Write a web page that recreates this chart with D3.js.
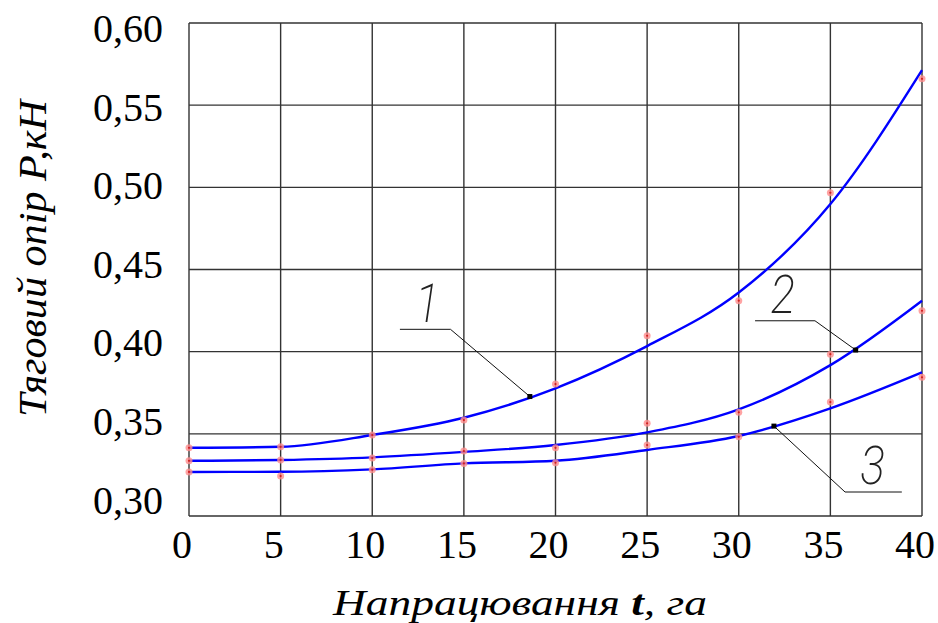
<!DOCTYPE html>
<html>
<head>
<meta charset="utf-8">
<script src="https://cdn.jsdelivr.net/npm/d3@7"></script>
<style>
  body { margin: 0; background: #fff; }
  svg { display: block; }
  .serif { font-family: "Liberation Serif", "Times New Roman", "DejaVu Serif", serif; }
  .thin { font-family: "Roboto", "Inter", "DejaVu Sans", sans-serif; font-weight: 200; }
</style>
</head>
<body>
<svg width="938" height="623"></svg>
<script>
// hours of work t, ha
const tValues = [0, 5, 10, 15, 20, 25, 30, 35, 40];

// fitted curves (P, kN)
const curve1 = [0.3415, 0.3421, 0.3493, 0.3598, 0.3777, 0.4034, 0.4360, 0.4898, 0.5713];
const curve2 = [0.3336, 0.3341, 0.3357, 0.3390, 0.3432, 0.3509, 0.3649, 0.3918, 0.4310];
const curve3 = [0.3268, 0.3269, 0.3284, 0.3320, 0.3336, 0.3402, 0.3487, 0.3655, 0.3874];

// measured points
const points1 = [0.3415, 0.3421, 0.3493, 0.3584, 0.3803, 0.4097, 0.4310, 0.4967, 0.5660];
const points2 = [0.3336, 0.3341, 0.3353, 0.3395, 0.3415, 0.3564, 0.3631, 0.3985, 0.4249];
const points3 = [0.3268, 0.3243, 0.3282, 0.3320, 0.3324, 0.3432, 0.3482, 0.3693, 0.3844];

const xTicks = [0, 5, 10, 15, 20, 25, 30, 35, 40];
const yTicks = [0.30, 0.35, 0.40, 0.45, 0.50, 0.55, 0.60];

// leader labels: [point t, point P], [elbow t, elbow P], [end t], text pos
const labels = [
  { text: "1", pt: [18.6, 0.3727], elbow: [14.27, 0.4136], end: 11.51, tx: 13.0, ty: 0.4180 },
  { text: "2", pt: [36.38, 0.4010], elbow: [34.16, 0.4188], end: 30.89, tx: 32.4, ty: 0.4235 },
  { text: "3", pt: [31.92, 0.3547], elbow: [35.80, 0.3146], end: 38.90, tx: 37.3, ty: 0.3195 }
];

const svg = d3.select("svg");
const plotLeft = 189, plotRight = 922, plotTop = 23, plotBottom = 516;

const x = d3.scaleLinear().domain([0, 40]).range([plotLeft, plotRight]);
const y = d3.scaleLinear().domain([0.30, 0.60]).range([plotBottom, plotTop]);
// tick labels sit on a slightly tighter spacing than the grid in the original
const yLabel = d3.scaleLinear().domain([0.30, 0.60]).range([500, 28.5]);

svg.append("rect").attr("width", 938).attr("height", 623).attr("fill", "#fff");

// grid
svg.append("g")
  .selectAll("line")
  .data(xTicks)
  .join("line")
  .attr("x1", d => x(d)).attr("x2", d => x(d))
  .attr("y1", plotTop).attr("y2", plotBottom)
  .attr("stroke", "#333").attr("stroke-width", 1.4);

svg.append("g")
  .selectAll("line")
  .data(yTicks)
  .join("line")
  .attr("x1", plotLeft).attr("x2", plotRight)
  .attr("y1", d => y(d)).attr("y2", d => y(d))
  .attr("stroke", "#333").attr("stroke-width", 1.4);

// tick labels
svg.append("g")
  .selectAll("text")
  .data(yTicks)
  .join("text")
  .attr("class", "serif")
  .attr("x", 163)
  .attr("y", d => yLabel(d))
  .attr("dy", "0.34em")
  .attr("text-anchor", "end")
  .attr("font-size", 40)
  .text(d => d3.format(".2f")(d).replace(".", ","));

svg.append("g")
  .selectAll("text")
  .data(xTicks)
  .join("text")
  .attr("class", "serif")
  .attr("x", d => x(d) - 7)
  .attr("y", 558)
  .attr("text-anchor", "middle")
  .attr("font-size", 40)
  .text(d => d);

// axis titles
const xt = svg.append("text")
  .attr("class", "serif")
  .attr("x", 333).attr("y", 615)
  .attr("font-style", "italic")
  .attr("font-size", 36)
  .attr("textLength", 374)
  .attr("lengthAdjust", "spacingAndGlyphs");
xt.append("tspan").text("Напрацювання ");
xt.append("tspan").attr("font-weight", "bold").text("t");
xt.append("tspan").text(", га");

svg.append("text")
  .attr("class", "serif")
  .attr("transform", "translate(46,417) rotate(-90)")
  .attr("font-style", "italic")
  .attr("font-size", 40)
  .attr("textLength", 317)
  .attr("lengthAdjust", "spacingAndGlyphs")
  .text("Тяговий опір P,кН");

// curves
const line = d3.line()
  .x(d => x(d[0]))
  .y(d => y(d[1]))
  .curve(d3.curveMonotoneX);

[curve1, curve2, curve3].forEach(c => {
  svg.append("path")
    .datum(d3.zip(tValues, c))
    .attr("d", line)
    .attr("fill", "none")
    .attr("stroke", "#0000ff")
    .attr("stroke-width", 2.4);
});

// measured points
[points1, points2, points3].forEach(p => {
  const g = svg.append("g");
  const data = d3.zip(tValues, p);
  g.selectAll("circle.halo")
    .data(data)
    .join("circle")
    .attr("class", "halo")
    .attr("cx", d => x(d[0])).attr("cy", d => y(d[1]))
    .attr("r", 3.5)
    .attr("fill", "#ff8c8c")
    .attr("fill-opacity", 0.8);
  g.selectAll("circle.core")
    .data(data)
    .join("circle")
    .attr("class", "core")
    .attr("cx", d => x(d[0])).attr("cy", d => y(d[1]))
    .attr("r", 1.1)
    .attr("fill", "#d02020");
});

// leader labels
const lab = svg.append("g").selectAll("g").data(labels).join("g");

lab.append("path")
  .attr("d", d => d3.line()([
    [x(d.end), y(d.elbow[1])],
    [x(d.elbow[0]), y(d.elbow[1])],
    [x(d.pt[0]), y(d.pt[1])]
  ]))
  .attr("fill", "none")
  .attr("stroke", "#111")
  .attr("stroke-width", 1);

lab.append("rect")
  .attr("x", d => x(d.pt[0]) - 2.5)
  .attr("y", d => y(d.pt[1]) - 2.5)
  .attr("width", 5).attr("height", 5)
  .attr("fill", "#000");

lab.append("text")
  .attr("class", "thin")
  .attr("transform", d => `translate(${x(d.tx)},${y(d.ty)}) scale(0.85,1)`)
  .attr("text-anchor", "middle")
  .attr("font-style", "italic")
  .attr("font-size", 54)
  .attr("fill", "#222")
  .text(d => d.text);
</script>
</body>
</html>
